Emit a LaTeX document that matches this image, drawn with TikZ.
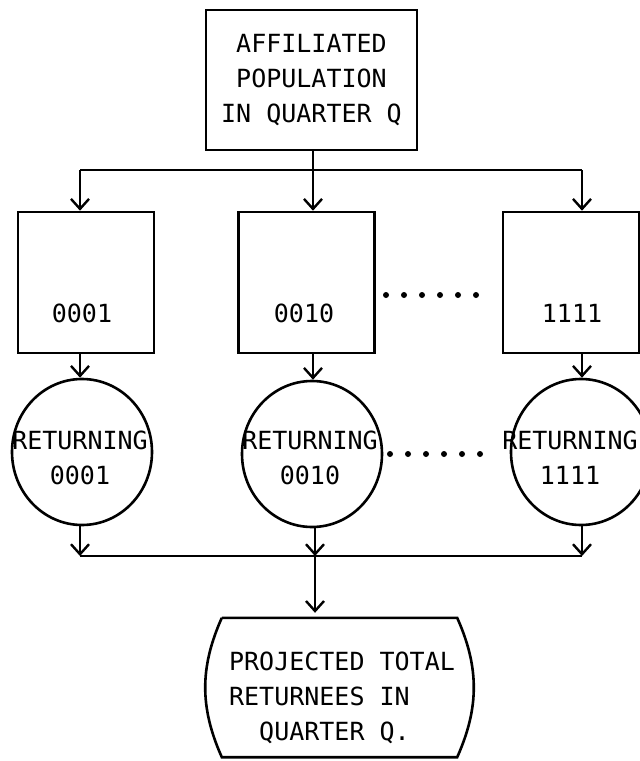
\documentclass[tikz,border=0pt]{standalone}
\usepackage{fontspec}
\newfontfamily\tw{DejaVu Sans Mono}
\usetikzlibrary{arrows.meta,shapes.geometric,calc}
\begin{document}
\begin{tikzpicture}[x=1pt,y=-1pt,
  every node/.style={font=\tw\fontsize{25}{35}\selectfont},
  ln/.style={line width=2.6pt},
  arr/.style={ln,-{Straight Barb[length=10pt,width=18pt,line width=2.4pt]}},
  boxn/.style={draw,ln,rectangle,minimum width=136pt,minimum height=141pt,inner sep=0pt},
  circn/.style={draw,ln,ellipse,minimum width=140pt,minimum height=146pt,inner sep=0pt},
  dotline/.style={line width=6pt,line cap=round,dash pattern=on 0pt off 18pt},
  txt/.style={align=center,inner sep=0pt}
]
\useasboundingbox (0,0) rectangle (640,761);
\clip (0,0) rectangle (640,761);

% top box
\node[draw,ln,minimum width=211pt,minimum height=140pt,align=center,inner sep=0pt] (top) at (311.5,80)
  {AFFILIATED\\POPULATION\\IN QUARTER Q};

% boxes
\node[boxn] (b1) at (86,282.5) {};
\node[boxn] (b2) at (306.5,282.5) {};
\node[boxn] (b3) at (571,282.5) {};
\node[txt] (t1) at (82,313) {0001};
\node[txt] (t2) at (304,313) {0010};
\node[txt] (t3) at (572,313) {1111};

% circles
\node[circn] (c1) at (82,452) {};
\node[circn] (c2) at (312,454) {};
\node[circn] (c3) at (581,452) {};
\node[txt] (r1) at (80,458) {RETURNING\\0001};
\node[txt] (r2) at (310,458) {RETURNING\\0010};
\node[txt] (r3) at (570,458) {RETURNING\\1111};

% bottom box
\node[minimum width=235pt,minimum height=139pt,inner sep=0pt] (out) at (339.5,687.5) {};
\draw[ln] (out.north west) -- (out.north east) to[bend left=24] (out.south east)
  -- (out.south west) to[bend left=24] (out.north west);
\node[align=left,inner sep=0pt] (outt) at (342,698) {PROJECTED TOTAL\\RETURNEES IN\\\phantom{QU}QUARTER Q.};

% top bus
\coordinate (u1) at (80,170);
\coordinate (u2) at (313,170);
\coordinate (u3) at (582,170);
\draw[ln] (top.south -| u2) -- (u2);
\draw[ln] (u1) -- (u3);
\draw[arr] (u1) -- (u1 |- b1.north);
\draw[arr] (u2) -- (u2 |- b2.north);
\draw[arr] (u3) -- (u3 |- b3.north);

% boxes to circles
\draw[arr] (b1.south -| u1) -- (u1 |- c1.north);
\draw[arr] (b2.south -| u2) -- (u2 |- c2.north);
\draw[arr] (b3.south -| u3) -- (u3 |- c3.north);

% bottom bus
\coordinate (m1) at (80,556);
\coordinate (m2) at (315,556);
\coordinate (m3) at (582,556);
\draw[arr] (c1.south -| m1) -- (m1);
\draw[arr] (c2.south -| m2) -- (m2);
\draw[arr] (c3.south -| m3) -- (m3);
\draw[ln] (m1) -- (m3);
\draw[arr,shorten >=5pt] (m2) -- (m2 |- out.north);

% dotted links
\coordinate (d1) at (386,295);
\coordinate (d2) at (492,295);
\draw[dotline] (d1) -- (d2);
\coordinate (e1) at (390,454);
\coordinate (e2) at (494,454);
\draw[dotline] (e1) -- (e2);
\end{tikzpicture}
\end{document}
